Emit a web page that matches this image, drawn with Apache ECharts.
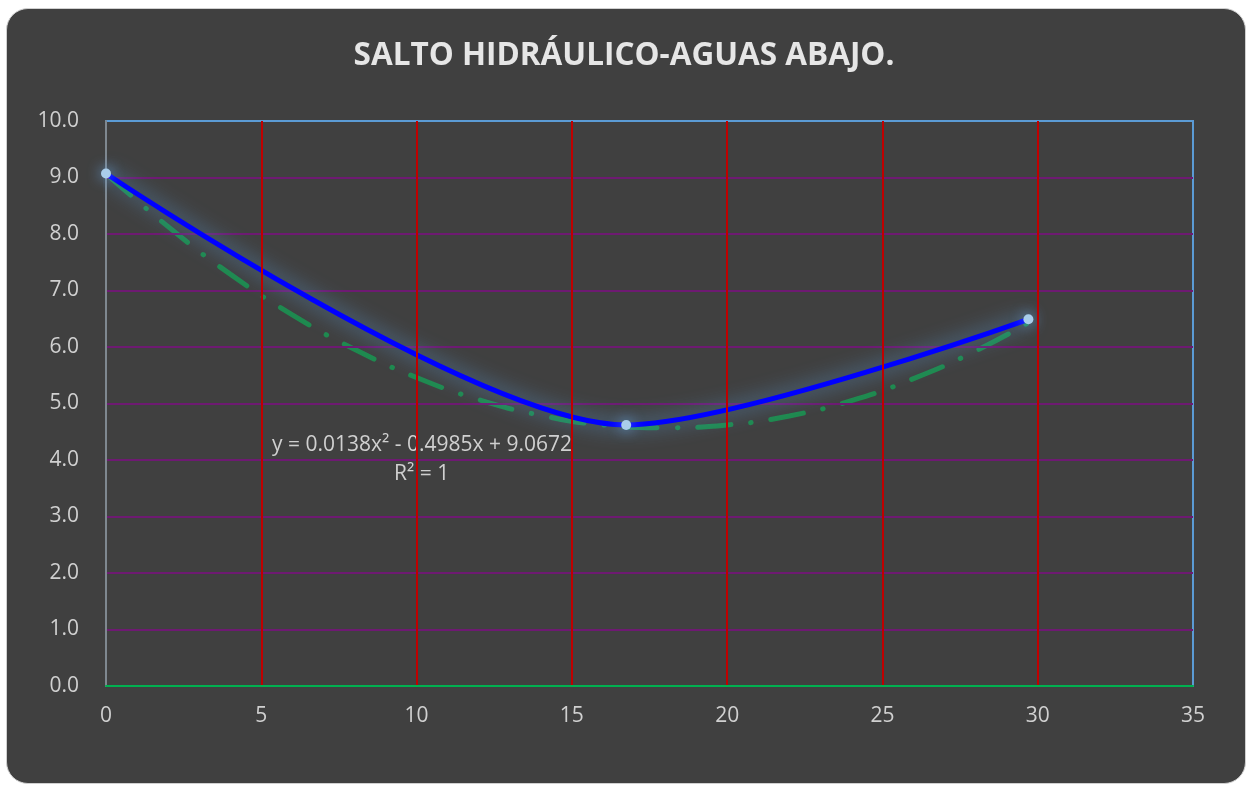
<!DOCTYPE html>
<html>
<head>
<meta charset="utf-8">
<script src="https://cdn.jsdelivr.net/npm/echarts@6/dist/echarts.min.js"></script>
<style>
html,body{margin:0;padding:0;background:#ffffff;width:1248px;height:785px;overflow:hidden;}
#panel{position:absolute;left:6px;top:8px;width:1238px;height:774px;background:#404040;border:1px solid #d0d0d0;border-radius:22px;}
#chart{position:absolute;left:0;top:0;width:1248px;height:785px;}
</style>
</head>
<body>
<div id="panel"></div>
<div id="chart"></div>
<script>
const titleText = 'SALTO HIDRÁULICO-AGUAS ABAJO.';
const pointsX = [0, 16.75, 29.7];
const pointsY = [9.07, 4.62, 6.49];
const trendX = [0, 2, 4, 6, 8, 10, 12, 14, 16, 18, 20, 22, 24, 26, 28, 29.7];
const trendY = [9.07, 8.13, 7.29, 6.57, 5.96, 5.46, 5.07, 4.79, 4.62, 4.57, 4.62, 4.78, 5.05, 5.44, 5.93, 6.43];
const equationText = 'y = 0.0138x² - 0.4985x + 9.0672';
const r2Text = 'R² = 1';

const chart = echarts.init(document.getElementById('chart'), null, {renderer: 'canvas'});
const labelColor = '#d0d0d0';
const font = '"Open Sans", "Noto Sans", sans-serif';

chart.setOption({
  backgroundColor: 'transparent',
  animation: false,
  title: {
    text: titleText,
    left: 'center',
    top: 35,
    textStyle: {color: '#e6e6e6', fontSize: 31.5, fontWeight: 'bold', fontFamily: font}
  },
  grid: {
    left: 106, right: 55, top: 121, bottom: 99,
    show: true, borderColor: '#5b9bd5', borderWidth: 2, backgroundColor: 'transparent'
  },
  xAxis: {
    type: 'value', min: 0, max: 35, interval: 5,
    axisLine: {show: true, onZero: false, lineStyle: {color: '#00b050', width: 2}},
    axisTick: {show: false},
    axisLabel: {color: labelColor, fontSize: 21, fontFamily: font, margin: 20},
    splitLine: {show: true, showMinLine: false, showMaxLine: false, lineStyle: {color: '#c00000', width: 2}},
    z: 5
  },
  yAxis: {
    type: 'value', min: 0, max: 10, interval: 1,
    axisLine: {show: true, lineStyle: {color: '#7f8890', width: 2}},
    axisTick: {show: false},
    axisLabel: {color: labelColor, fontSize: 21, fontFamily: font, margin: 27,
      formatter: v => v.toFixed(1)},
    splitLine: {show: true, showMinLine: false, showMaxLine: false, lineStyle: {color: '#6e1a72', width: 2}},
    z: 4
  },
  series: [
    {
      type: 'line',
      name: 'trend',
      data: trendX.map((x, i) => [x, trendY[i]]),
      smooth: true,
      showSymbol: false,
      lineStyle: {color: '#1e8a4e', width: 5, type: [33, 20, 0.5, 20], cap: 'round'},
      z: 3
    },
    {
      type: 'line',
      name: 'data',
      data: pointsX.map((x, i) => [x, pointsY[i]]),
      smooth: 0.27,
      symbol: 'circle',
      symbolSize: 10,
      itemStyle: {color: '#a9cdea', shadowColor: 'rgba(110,175,240,1)', shadowBlur: 14},
      lineStyle: {color: '#0000ff', width: 5, shadowColor: 'rgba(91,155,213,0.95)', shadowBlur: 20},
      z: 4
    }
  ],
  graphic: [
    {type: 'text', left: 272, top: 435, style: {text: equationText, fill: labelColor, fontSize: 21, fontFamily: font}},
    {type: 'text', left: 394, top: 464, style: {text: r2Text, fill: labelColor, fontSize: 21, fontFamily: font}}
  ]
});
</script>
</body>
</html>
